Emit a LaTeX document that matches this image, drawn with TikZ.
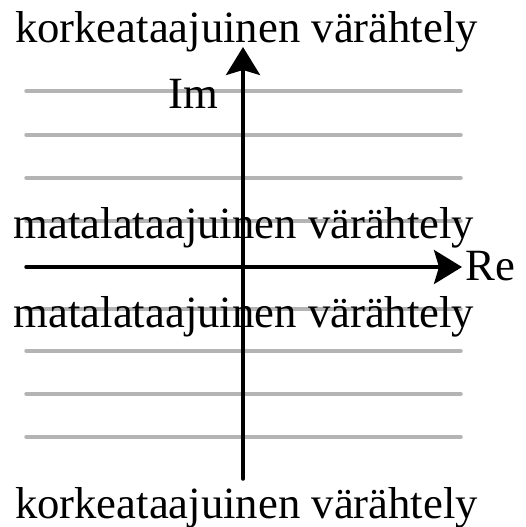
\documentclass[tikz,border=0pt]{standalone}
\usepackage{fontspec}
\setmainfont{Liberation Serif}
\usetikzlibrary{arrows.meta}
\definecolor{gridgray}{HTML}{B4B4B4}
\begin{document}
\begin{tikzpicture}[x=1pt,y=-1pt,
  gridline/.style={draw=gridgray,line width=3.5pt,line cap=round},
  axis/.style={draw=black,line width=3.5pt,line cap=round,-{Stealth[length=28pt,width=34pt,inset=5pt]}},
  lbl/.style={inner sep=0pt,anchor=base,font=\fontsize{44.7}{50}\selectfont}]
\useasboundingbox (0,0) rectangle (526,527);
% grid lines
\foreach \y in {91,135,178,221,309,351,394,437}{
  \draw[gridline] (26,\y) -- (461,\y);
}
% texts
\node[lbl] (ktop) at (246.5,42) {korkeataajuinen värähtely};
\node[lbl] (mtop) at (244,238) {matalataajuinen värähtely};
\node[lbl] (mbot) at (244,327) {matalataajuinen värähtely};
\node[lbl] (kbot) at (246.5,518) {korkeataajuinen värähtely};
\node[lbl,anchor=base west] (im) at (168,108) {Im};
\node[lbl,anchor=base west] (re) at (465,280) {Re};
% axes
\coordinate (xs) at (26,267);
\coordinate (xe) at (462,267);
\coordinate (ys) at (243,479);
\coordinate (ye) at (243,47);
\draw[axis] (xs) -- (xe);
\draw[axis] (ys) -- (ye);
\end{tikzpicture}
\end{document}
